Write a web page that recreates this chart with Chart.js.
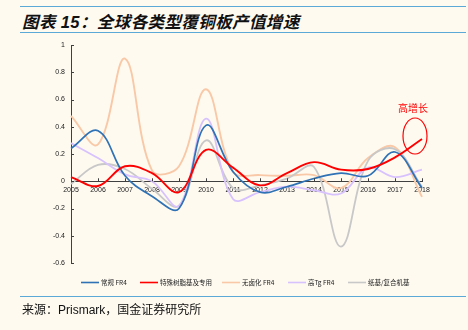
<!DOCTYPE html>
<html>
<head>
<meta charset="utf-8">
<script src="https://cdn.jsdelivr.net/npm/chart.js@4/dist/chart.umd.min.js"></script>
<style>
  html, body { margin: 0; padding: 0; background: #fefaf0; }
  body { width: 468px; height: 330px; position: relative; overflow: hidden; }
  .rule { position: absolute; left: 20px; width: 446px; height: 0; border-top: 1.5px solid #5aa9d6; }
  #title { position: absolute; left: 22px; top: 9px; font: italic bold 16.5px "Liberation Sans", "Noto Sans CJK SC", sans-serif; color: #111; white-space: nowrap; letter-spacing: 0.4px; }
  #source { position: absolute; left: 22px; top: 300px; font: 12px "Liberation Sans", "Noto Sans CJK SC", sans-serif; color: #111; white-space: nowrap; }
  #wrap { position: absolute; left: 0; top: 0; width: 468px; height: 330px; }
</style>
</head>
<body>
<div class="rule" style="top:6px"></div>
<div id="title">图表 15：全球各类型覆铜板产值增速</div>
<div class="rule" style="top:32px"></div>
<div id="wrap"><canvas id="c" width="468" height="330"></canvas></div>
<div class="rule" style="top:296px"></div>
<div id="source">来源：Prismark，国金证券研究所</div>
<script>
// Annual growth of copper clad laminate output value, by laminate type
const years = ['2005','2006','2007','2008','2009','2010','2011','2012','2013','2014','2015','2016','2017','2018'];
const standardFR4    = [0.24, 0.37, 0.04, -0.11, -0.20, 0.41, 0.07, -0.08, -0.04, 0.02, 0.06, 0.04, 0.215, -0.05];
const specialResin   = [0.03, -0.035, 0.11, 0.06, -0.08, 0.23, 0.10, -0.03, 0.06, 0.14, 0.085, 0.09, 0.175, 0.31];
const halogenFreeFR4 = [0.48, 0.27, 0.90, 0.08, 0.11, 0.675, 0.07, 0.045, 0.04, 0.045, -0.05, 0.17, 0.25, -0.115];
const highTgFR4      = [0.28, 0.17, 0.05, 0.0, -0.18, 0.46, -0.13, -0.08, -0.04, -0.066, -0.09, 0.10, 0.03, 0.085];
const paperComposite = [-0.02, 0.12, 0.09, -0.055, -0.18, 0.30, -0.05, -0.03, 0.02, 0.105, -0.48, 0.15, 0.235, -0.04];
const seriesNames = ['常规 FR4', '特殊树脂基及专用', '无卤化 FR4', '高Tg FR4', '纸基/复合机基'];
const yTicks = { min: -0.6, max: 1, step: 0.2 };
const calloutText = '高增长';

const colors = ['#2f72b5', '#ff0000', '#f9c8a6', '#d8c2fd', '#c8c8c8'];
const widths = [1.7, 1.9, 1.9, 1.8, 1.8];
const allSeries = [standardFR4, specialResin, halogenFreeFR4, highTgFR4, paperComposite];

// Drawing order: lighter lines underneath, red on top
const drawOrder = [2, 4, 3, 0, 1];
const datasets = allSeries.map((d, i) => ({
  label: seriesNames[i],
  data: d,
  borderColor: colors[i],
  backgroundColor: colors[i],
  borderWidth: widths[i],
  pointRadius: 0,
  tension: 0.38,
  fill: false,
  order: 5 - drawOrder.indexOf(i)
}));

// small inward tick marks, bottom legend and the callout ellipse
const decor = {
  id: 'decor',
  afterDatasetsDraw(chart) {
    const ctx = chart.ctx;
    const xs = chart.scales.x, ys = chart.scales.y;
    const axisY = ys.getPixelForValue(0);
    ctx.save();
    ctx.strokeStyle = '#404040';
    ctx.lineWidth = 1;
    ctx.beginPath();
    ys.ticks.forEach(t => {
      const y = Math.round(ys.getPixelForValue(t.value)) + 0.5;
      ctx.moveTo(xs.left, y); ctx.lineTo(xs.left + 3, y);
    });
    xs.ticks.forEach((t, i) => {
      const x = Math.round(xs.getPixelForValue(i)) + 0.5;
      ctx.moveTo(x, axisY); ctx.lineTo(x, axisY - 3);
    });
    ctx.stroke();

    // callout around the last point of the special-resin series
    const li = specialResin.length - 1;
    const px = xs.getPixelForValue(li), py = ys.getPixelForValue(specialResin[li]);
    ctx.strokeStyle = '#ff0000';
    ctx.lineWidth = 1.2;
    ctx.beginPath();
    ctx.ellipse(px - 7, py - 3, 12, 18, 0, 0, Math.PI * 2);
    ctx.stroke();
    ctx.fillStyle = '#ff0000';
    ctx.font = '10px "Noto Sans CJK SC", sans-serif';
    ctx.textAlign = 'center';
    ctx.textBaseline = 'middle';
    ctx.fillText(calloutText, px - 9, py - 31);

    // legend row
    const starts = [81, 140, 222, 288, 348];
    const ly = 282.5;
    ctx.font = '6.5px "Noto Sans CJK SC", sans-serif';
    ctx.textAlign = 'left';
    seriesNames.forEach((name, i) => {
      const x0 = starts[i];
      ctx.strokeStyle = colors[i];
      ctx.lineWidth = 1.6;
      ctx.beginPath();
      ctx.moveTo(x0, ly); ctx.lineTo(x0 + 18, ly);
      ctx.stroke();
      ctx.fillStyle = '#222';
      ctx.fillText(name, x0 + 20, ly);
    });
    ctx.restore();
  }
};

new Chart(document.getElementById('c'), {
  type: 'line',
  data: { labels: years, datasets },
  options: {
    responsive: false,
    animation: false,
    devicePixelRatio: 1,
    layout: { padding: { top: 45, left: 0, right: 46, bottom: 67 } },
    plugins: { legend: { display: false }, tooltip: { enabled: false } },
    scales: {
      x: {
        type: 'category',
        offset: false,
        position: { y: 0 },
        grid: { display: false, drawTicks: false },
        border: { display: true, color: '#404040', width: 1 },
        ticks: { color: '#222', font: { family: '"Liberation Sans", Arial, sans-serif', size: 7 }, padding: 5, maxRotation: 0, autoSkip: false }
      },
      y: {
        min: yTicks.min, max: yTicks.max,
        afterFit(scale) { scale.width = 71; },
        grid: { display: false, drawTicks: false },
        border: { display: true, color: '#404040', width: 1 },
        ticks: {
          stepSize: yTicks.step, color: '#222',
          font: { family: '"Liberation Sans", Arial, sans-serif', size: 7 }, padding: 6,
          callback: v => String(Number(v.toFixed(1)))
        }
      }
    }
  },
  plugins: [decor]
});
</script>
</body>
</html>
